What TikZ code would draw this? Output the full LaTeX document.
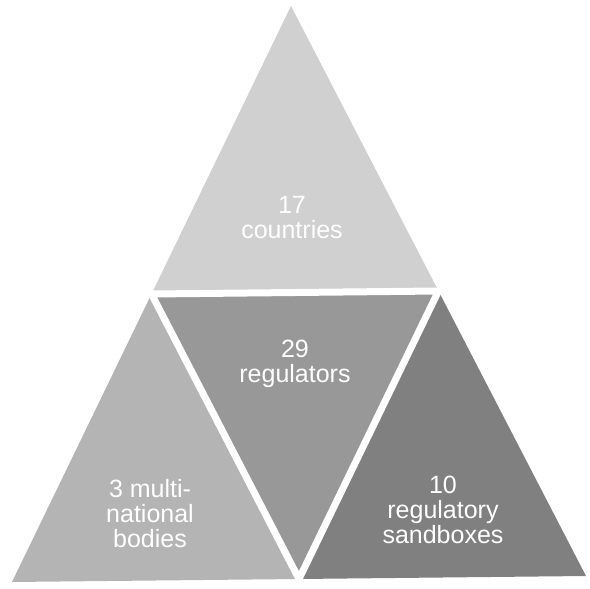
\documentclass[tikz,border=0pt]{standalone}
\usepackage{fontspec}
\setmainfont{Liberation Sans}
\definecolor{topgray}{RGB}{208,208,208}
\definecolor{leftgray}{RGB}{180,180,180}
\definecolor{midgray}{RGB}{152,152,152}
\definecolor{rightgray}{RGB}{128,128,128}
\tikzset{
  lbl/.style={text=white, align=center, inner sep=0pt, font=\fontsize{25}{25}\selectfont},
  gap/.style={draw=white, line width=7pt}
}
\begin{document}
\begin{tikzpicture}[x=1pt,y=-1pt]
\useasboundingbox[fill=white] (0,0) rectangle (590,589);
\coordinate (A) at (291,6);
\coordinate (L) at (12,582);
\coordinate (R) at (586,576);
\coordinate (ML) at (151.5,294);
\coordinate (MR) at (438.5,291);
\coordinate (MB) at (299,579);
\fill[topgray] (A) -- (ML) -- (MR) -- cycle;
\fill[leftgray] (ML) -- (L) -- (MB) -- cycle;
\fill[rightgray] (MR) -- (MB) -- (R) -- cycle;
\fill[midgray] (ML) -- (MR) -- (MB) -- cycle;
\draw[gap] (ML) -- (MR) -- (MB) -- cycle;
\node[lbl] (t1) at (292,218) {17\\countries};
\node[lbl] (t2) at (295,364) {29\\regulators};
\node[lbl] (t3) at (150,514) {3 multi-\\national\\bodies};
\node[lbl] (t4) at (443,510) {10\\regulatory\\sandboxes};
\end{tikzpicture}
\end{document}
